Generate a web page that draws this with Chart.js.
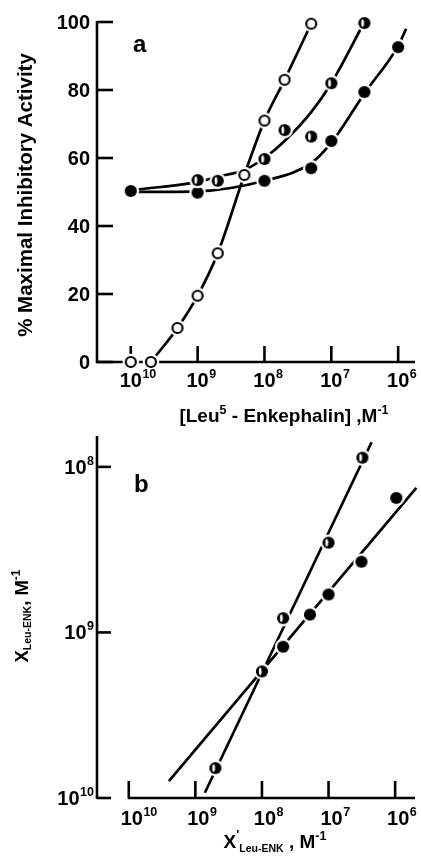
<!DOCTYPE html>
<html><head><meta charset="utf-8">
<script src="https://cdn.jsdelivr.net/npm/chart.js@4.4.1/dist/chart.umd.min.js"></script>
<style>
html,body{margin:0;padding:0;background:#fff;}
#wrap{position:relative;width:421px;height:858px;overflow:hidden;background:#fff;}
canvas{position:absolute;left:0;}
#ca{top:0;}
#cb{top:430px;}
</style></head><body>
<div id="wrap"><canvas id="ca" width="421" height="430"></canvas><canvas id="cb" width="421" height="428"></canvas></div>
<script>
// ===== Panel a data =====
const aXTickVals = [1e10, 1e9, 1e8, 1e7, 1e6];
const aXTickExp = ['10', '9', '8', '7', '6'];
const aYTickVals = [0, 20, 40, 60, 80, 100];
const aYTickLabels = ['0', '20', '40', '60', '80', '100'];

const openX = [1e10, 5e9, 2e9, 1e9, 5e8, 2e8, 1e8, 5e7, 2e7];
const openY = [0, 0, 10, 19.5, 32, 55, 71, 83, 99.5];
const halfX = [1e9, 5e8, 1e8, 5e7, 2e7, 1e7, 3.2e6];
const halfY = [53.5, 53.3, 59.7, 68.2, 66.3, 82, 99.7];
const fullX = [1e10, 1e9, 1e8, 2e7, 1e7, 3.2e6, 1e6];
const fullY = [50.3, 49.8, 53.3, 57, 65, 79.4, 92.6];

// fitted curves
const openFitX = [5e9, 2e9, 1e9, 5e8, 2e8, 1e8, 5e7, 2e7];
const openFitY = [0, 10, 19.5, 32, 55, 71, 83, 99.5];
const halfFitX = [1e10, 1e9, 5e8, 2e8, 1e8, 5e7, 2e7, 1e7, 3.2e6];
const halfFitY = [50.5, 53, 54.5, 56.5, 60, 65, 73.5, 82, 100];
const fullFitX = [1e10, 1e9, 1e8, 2e7, 1e7, 3.2e6, 1e6, 7.6e5];
const fullFitY = [50, 50.2, 53.3, 58.5, 64.5, 79, 93, 98];

// ===== Panel b data =====
const bXTickVals = [1e10, 1e9, 1e8, 1e7, 1e6];
const bXTickExp = ['10', '9', '8', '7', '6'];
const bYTickVals = [1e8, 1e9, 1e10];
const bYTickExp = ['8', '9', '10'];

const bHalfX = [5e8, 1e8, 4.8e7, 1e7, 3.1e6];
const bHalfY = [6.6e9, 1.72e9, 8.2e8, 2.87e8, 8.8e7];
const bFullX = [4.8e7, 1.9e7, 1e7, 3.2e6, 9.6e5];
const bFullY = [1.22e9, 7.8e8, 5.9e8, 3.74e8, 1.54e8];
const bSteepX = [7.2e8, 2.26e6];
const bSteepY = [9.3e9, 7.1e7];
const bShallowX = [2.5e9, 4.8e5];
const bShallowY = [7.9e9, 1.34e8];

// ===== helpers =====
const FONT = '"Liberation Sans", Arial, Helvetica, sans-serif';
function pts(xs, ys) { return xs.map((x, i) => ({ x: x, y: ys[i] })); }

function makeMarker(kind) {
  const c = document.createElement('canvas');
  c.width = 20; c.height = 20;
  const g = c.getContext('2d');
  const m = 10;
  g.fillStyle = '#fff';
  g.beginPath(); g.arc(m, m, 8.3, 0, Math.PI * 2); g.fill();
  if (kind === 'open') {
    g.strokeStyle = '#000'; g.lineWidth = 2.2;
    g.beginPath(); g.arc(m, m, 5, 0, Math.PI * 2); g.fill(); g.stroke();
  } else {
    g.fillStyle = '#000';
    g.beginPath(); g.arc(m, m, 6.1, 0, Math.PI * 2); g.fill();
    if (kind === 'half') {
      g.fillStyle = '#fff';
      g.beginPath(); g.ellipse(m - 1.8, m, 1.4, 3.7, 0, 0, Math.PI * 2); g.fill();
    }
  }
  return c;
}
const mkOpen = makeMarker('open'), mkHalf = makeMarker('half'), mkFull = makeMarker('full');

function markerSet(data, style) {
  return { data: data, showLine: false, pointStyle: style, pointRadius: 5, pointHoverRadius: 5, order: 0, clip: false };
}
function lineSet(data, smooth) {
  return { data: data, showLine: true, borderColor: '#000', borderWidth: 2.7, pointRadius: 0, pointHoverRadius: 0,
    cubicInterpolationMode: smooth ? 'monotone' : 'default', tension: 0, order: 1, clip: false, fill: false };
}

function rich(ctx, x, y, parts, align) {
  let total = 0;
  const ws = parts.map(p => { ctx.font = (p[3] || 'bold') + ' ' + p[1] + 'px ' + FONT; const w = ctx.measureText(p[0]).width; total += w; return w; });
  let cx = align === 'center' ? x - total / 2 : (align === 'right' ? x - total : x);
  ctx.textAlign = 'left'; ctx.textBaseline = 'alphabetic';
  parts.forEach((p, i) => { ctx.font = (p[3] || 'bold') + ' ' + p[1] + 'px ' + FONT; ctx.fillText(p[0], cx, y + (p[2] || 0)); cx += ws[i]; });
  return total;
}
function powLabelCentered(ctx, x, baseline, exp) {
  ctx.font = 'bold 20px ' + FONT;
  const bw = ctx.measureText('10').width;
  ctx.textAlign = 'left'; ctx.textBaseline = 'alphabetic';
  ctx.fillText('10', x - bw / 2, baseline);
  ctx.font = 'bold 12.5px ' + FONT;
  ctx.fillText(exp, x + bw / 2 + 0.5, baseline - 9);
}
function powLabelRight(ctx, xr, baseline, exp) {
  ctx.font = 'bold 12.5px ' + FONT;
  const ew = ctx.measureText(exp).width;
  ctx.textAlign = 'left'; ctx.textBaseline = 'alphabetic';
  ctx.fillText(exp, xr - ew, baseline - 9);
  ctx.font = 'bold 20px ' + FONT;
  const bw = ctx.measureText('10').width;
  ctx.fillText('10', xr - ew - 0.5 - bw, baseline);
}

// ===== Panel a =====
const axesA = {
  id: 'axesA',
  beforeDatasetsDraw(chart) {
    const ctx = chart.ctx, xs = chart.scales.x, ys = chart.scales.y, a = chart.chartArea;
    ctx.save();
    ctx.strokeStyle = '#000'; ctx.lineWidth = 2.6; ctx.lineCap = 'butt';
    const y0 = ys.getPixelForValue(0), y100 = ys.getPixelForValue(100);
    ctx.beginPath();
    ctx.moveTo(a.left, y100 - 1); ctx.lineTo(a.left, y0);
    ctx.lineTo(a.right, y0);
    ctx.stroke();
    aYTickVals.forEach(v => { const py = ys.getPixelForValue(v); ctx.beginPath(); ctx.moveTo(a.left, py); ctx.lineTo(a.left + 16, py); ctx.stroke(); });
    aXTickVals.forEach(v => { const px = xs.getPixelForValue(v); ctx.beginPath(); ctx.moveTo(px, y0); ctx.lineTo(px, y0 - 16); ctx.stroke(); });
    ctx.restore();
  },
  afterDraw(chart) {
    const ctx = chart.ctx, xs = chart.scales.x, ys = chart.scales.y, a = chart.chartArea;
    ctx.save(); ctx.fillStyle = '#000';
    ctx.font = 'bold 20px ' + FONT; ctx.textAlign = 'right'; ctx.textBaseline = 'alphabetic';
    aYTickVals.forEach((v, i) => { ctx.fillText(aYTickLabels[i], a.left - 7, ys.getPixelForValue(v) + 7); });
    aXTickVals.forEach((v, i) => powLabelCentered(ctx, xs.getPixelForValue(v), 387, aXTickExp[i]));
    // x title
    rich(ctx, 284, 422, [['[Leu', 19], ['5', 12.5, -8], [' - Enkephalin] ,M', 19], ['-1', 12.5, -8]], 'center');
    // y title
    ctx.save(); ctx.translate(32, 195); ctx.rotate(-Math.PI / 2);
    rich(ctx, 0, 0, [['% Maximal Inhibitory Activity', 20.5]], 'center');
    ctx.restore();
    // panel letter
    ctx.font = 'bold 24px ' + FONT; ctx.textAlign = 'left';
    ctx.fillText('a', 133, 52);
    ctx.restore();
  }
};

new Chart(document.getElementById('ca'), {
  type: 'scatter',
  data: { datasets: [
    markerSet(pts(openX, openY), mkOpen),
    markerSet(pts(halfX, halfY), mkHalf),
    markerSet(pts(fullX, fullY), mkFull),
    lineSet(pts(openFitX, openFitY), true),
    lineSet(pts(halfFitX, halfFitY), true),
    lineSet(pts(fullFitX, fullFitY), true)
  ] },
  options: {
    responsive: false, animation: false, devicePixelRatio: 1,
    layout: { padding: { left: 97, right: 4, top: 22, bottom: 68 } },
    plugins: { legend: { display: false }, tooltip: { enabled: false } },
    events: [],
    scales: {
      x: { type: 'logarithmic', reverse: true, min: 5.6e5, max: 3.2e10, bounds: 'data', display: false },
      y: { type: 'linear', min: 0, max: 100, display: false }
    }
  },
  plugins: [axesA]
});

// ===== Panel b =====
const axesB = {
  id: 'axesB',
  beforeDatasetsDraw(chart) {
    const ctx = chart.ctx, xs = chart.scales.x, ys = chart.scales.y, a = chart.chartArea;
    ctx.save();
    ctx.strokeStyle = '#000'; ctx.lineWidth = 2.6;
    const yb = ys.getPixelForValue(1e10);
    ctx.beginPath(); ctx.moveTo(a.left, a.top); ctx.lineTo(a.left, yb + 1); ctx.stroke();
    bYTickVals.forEach(v => { const py = ys.getPixelForValue(v); ctx.beginPath(); ctx.moveTo(a.left, py); ctx.lineTo(a.left + 14, py); ctx.stroke(); });
    const x0 = xs.getPixelForValue(1e10);
    ctx.beginPath(); ctx.moveTo(x0 - 1, yb); ctx.lineTo(a.right, yb); ctx.stroke();
    bXTickVals.forEach(v => { const px = xs.getPixelForValue(v); ctx.beginPath(); ctx.moveTo(px, yb); ctx.lineTo(px, yb - 17); ctx.stroke(); });
    ctx.restore();
  },
  afterDraw(chart) {
    const ctx = chart.ctx, xs = chart.scales.x, ys = chart.scales.y, a = chart.chartArea;
    ctx.save(); ctx.fillStyle = '#000';
    bYTickVals.forEach((v, i) => powLabelRight(ctx, 94, ys.getPixelForValue(v) + 7, bYTickExp[i]));
    bXTickVals.forEach((v, i) => powLabelCentered(ctx, xs.getPixelForValue(v) + 3, 825 - 430, bXTickExp[i]));
    // x title
    rich(ctx, 275, 848 - 430, [['X', 19], ["'", 13, -9], ['Leu-ENK', 10.5, 4], [' , M', 19], ['-1', 12.5, -8]], 'center');
    // y title
    ctx.save(); ctx.translate(28, 616 - 430); ctx.rotate(-Math.PI / 2);
    rich(ctx, 0, 0, [['X', 18.5], ['Leu-ENK', 10.5, 3], [', M', 18.5], ['-1', 12, -8]], 'center');
    ctx.restore();
    ctx.font = 'bold 24px ' + FONT; ctx.textAlign = 'left';
    ctx.fillText('b', 134, 492 - 430);
    ctx.restore();
  }
};

new Chart(document.getElementById('cb'), {
  type: 'scatter',
  data: { datasets: [
    markerSet(pts(bHalfX, bHalfY), mkHalf),
    markerSet(pts(bFullX, bFullY), mkFull),
    lineSet(pts(bSteepX, bSteepY), false),
    lineSet(pts(bShallowX, bShallowY), false)
  ] },
  options: {
    responsive: false, animation: false, devicePixelRatio: 1,
    layout: { padding: { left: 97, right: 4, top: 0, bottom: 60 } },
    plugins: { legend: { display: false }, tooltip: { enabled: false } },
    events: [],
    scales: {
      x: { type: 'logarithmic', reverse: true, min: 5.03e5, max: 3.0e10, bounds: 'data', display: false },
      y: { type: 'logarithmic', reverse: true, min: 6.51e7, max: 1e10, bounds: 'data', display: false }
    }
  },
  plugins: [axesB]
});
</script>
</body></html>
